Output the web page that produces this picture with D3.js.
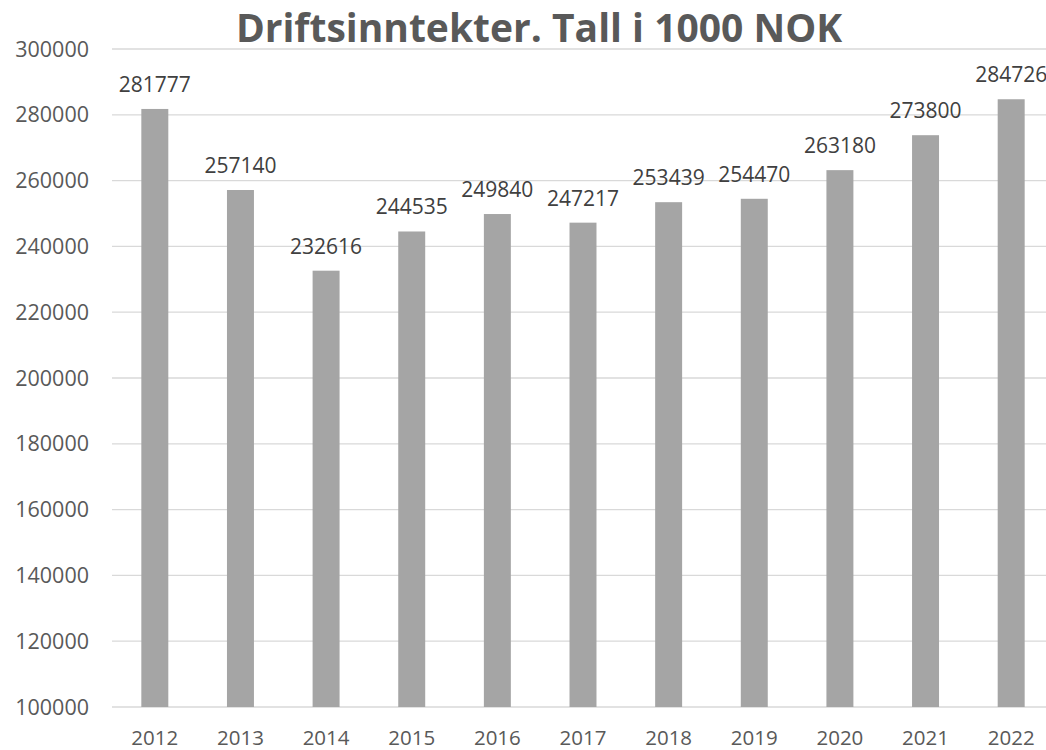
<!doctype html>
<html lang="no">
<head>
<meta charset="utf-8">
<title>Driftsinntekter</title>
<script src="https://d3js.org/d3.v7.min.js"></script>
<style>
	body { margin: 0; background: #fff; }
	svg { display: block; font-family: "Open Sans", sans-serif; }
</style>
</head>
<body>
<svg width="1046" height="750"></svg>
<script>
// data
const years  = ['2012','2013','2014','2015','2016','2017','2018','2019','2020','2021','2022'];
const values = [281777, 257140, 232616, 244535, 249840, 247217, 253439, 254470, 263180, 273800, 284726];
const yTicks = [100000,120000,140000,160000,180000,200000,220000,240000,260000,280000,300000];

const svg = d3.select('svg');
const m = { left: 112, right: 1054, top: 49, bottom: 707 };

const x = d3.scaleBand()
	.domain(years)
	.range([m.left, m.right])
	.paddingInner(0.685)
	.paddingOuter(0.3425);

const y = d3.scaleLinear()
	.domain([100000, 300000])
	.range([m.bottom, m.top]);

// gridlines
svg.append('g')
	.selectAll('line')
	.data(yTicks)
	.join('line')
	.attr('x1', m.left).attr('x2', m.right)
	.attr('y1', d => y(d)).attr('y2', d => y(d))
	.attr('stroke', '#d9d9d9')
	.attr('stroke-width', 1.3);

// y labels
svg.append('g')
	.selectAll('text')
	.data(yTicks)
	.join('text')
	.attr('x', 89)
	.attr('y', d => y(d) + 7.5)
	.attr('text-anchor', 'end')
	.attr('font-size', 21.5)
	.attr('fill', '#595959')
	.text(d => d);

// bars
svg.append('g')
	.selectAll('rect')
	.data(values)
	.join('rect')
	.attr('x', (d, i) => x(years[i]))
	.attr('width', x.bandwidth())
	.attr('y', d => y(d))
	.attr('height', d => y(100000) - y(d))
	.attr('fill', '#a5a5a5');

// value labels
svg.append('g')
	.selectAll('text')
	.data(values)
	.join('text')
	.attr('x', (d, i) => x(years[i]) + x.bandwidth() / 2)
	.attr('y', d => y(d) - 17)
	.attr('text-anchor', 'middle')
	.attr('font-size', 21)
	.attr('fill', '#404040')
	.text(d => d);

// x labels
svg.append('g')
	.selectAll('text')
	.data(years)
	.join('text')
	.attr('x', d => x(d) + x.bandwidth() / 2)
	.attr('y', 745)
	.attr('text-anchor', 'middle')
	.attr('font-size', 20.5)
	.attr('fill', '#595959')
	.text(d => d);

// title
svg.append('text')
	.attr('x', 539)
	.attr('y', 42)
	.attr('text-anchor', 'middle')
	.attr('font-size', 39)
	.attr('font-weight', 'bold')
	.attr('fill', '#595959')
	.text('Driftsinntekter. Tall i 1000 NOK');
</script>
</body>
</html>
